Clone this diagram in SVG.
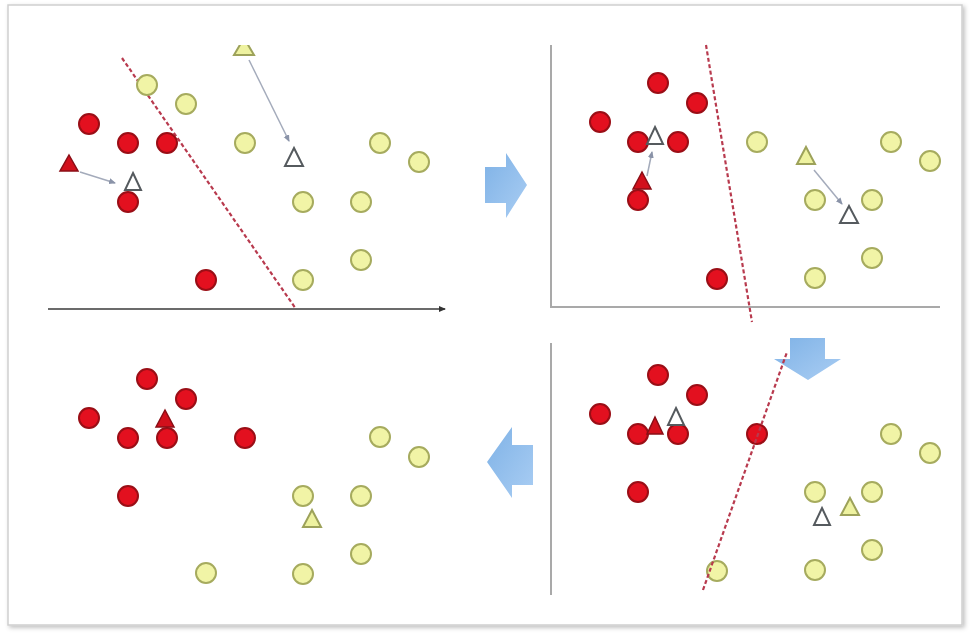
<svg xmlns="http://www.w3.org/2000/svg" width="972" height="634" viewBox="0 0 972 634">
<style>
.r{fill:#e3101f;stroke:#9a0e16;stroke-width:2}
.y{fill:#f1f4a6;stroke:#a6ab5e;stroke-width:2}
.rt{fill:#d2101c;stroke:#8a0e16;stroke-width:1.5}
.yt{fill:#eef2a0;stroke:#9da25a;stroke-width:2}
.wt{fill:#ffffff;stroke:#555a5e;stroke-width:2}
.sep{fill:none;stroke:#b83a4e;stroke-width:2.2;stroke-dasharray:4 2.5}
.ax{fill:none;stroke:#a9a9a9;stroke-width:2}
.mv{fill:none;stroke:#a4abbb;stroke-width:1.5;marker-end:url(#mv)}
.big{fill:url(#bl)}
</style>
<defs>
<marker id="mv" markerWidth="8" markerHeight="8" refX="6" refY="3" orient="auto" markerUnits="userSpaceOnUse"><path d="M0,0 L7,3 L0,6 z" fill="#8a93a8"/></marker>
<marker id="ah" markerWidth="8" markerHeight="8" refX="6" refY="3" orient="auto" markerUnits="userSpaceOnUse"><path d="M0,0 L7,3 L0,6 z" fill="#333"/></marker>
<linearGradient id="bl" x1="0" y1="0" x2="1" y2="1"><stop offset="0" stop-color="#7fb2e6"/><stop offset="1" stop-color="#a9cdf3"/></linearGradient>
<clipPath id="top"><rect x="0" y="45" width="972" height="600"/></clipPath>
<filter id="sh" x="-2%" y="-2%" width="104%" height="104%"><feDropShadow dx="2" dy="2" stdDeviation="2" flood-color="#000" flood-opacity="0.25"/></filter>
</defs>
<rect x="0" y="0" width="972" height="634" fill="#ffffff"/>
<rect id="frame" x="8" y="5" width="954" height="620" fill="#ffffff" stroke="#cfcfcf" stroke-width="1.5" filter="url(#sh)"/>

<g id="step-arrows">
<polygon id="arrow-right" class="big" points="485,167 506,167 506,153 527,185 506,218 506,203 485,203"/>
<polygon id="arrow-down" class="big" points="790,338 825,338 825,359 841,359 808,380 774,359 790,359"/>
<polygon id="arrow-left" class="big" points="533,445 512,445 512,427 487,462 512,498 512,485 533,485"/>
</g>

<g id="panel-top-left">
<line x1="48" y1="309" x2="445" y2="309" stroke="#3a3a3a" stroke-width="1.5" marker-end="url(#ah)"/>
<line class="sep" x1="122" y1="58" x2="296" y2="309"/>
<circle class="y" cx="147" cy="85" r="10"/>
<circle class="y" cx="186" cy="104" r="10"/>
<circle class="y" cx="245" cy="143" r="10"/>
<circle class="y" cx="380" cy="143" r="10"/>
<circle class="y" cx="419" cy="162" r="10"/>
<circle class="y" cx="303" cy="202" r="10"/>
<circle class="y" cx="361" cy="202" r="10"/>
<circle class="y" cx="361" cy="260" r="10"/>
<circle class="y" cx="303" cy="280" r="10"/>
<circle class="r" cx="89" cy="124" r="10"/>
<circle class="r" cx="128" cy="143" r="10"/>
<circle class="r" cx="167" cy="143" r="10"/>
<circle class="r" cx="128" cy="202" r="10"/>
<circle class="r" cx="206" cy="280" r="10"/>
<polygon class="rt" points="69,155 78,171 60,171"/>
<line class="mv" x1="80" y1="172" x2="115" y2="183"/>
<polygon class="wt" points="133,173 141,190 125,190"/>
<polygon class="yt" clip-path="url(#top)" points="244,38 254,55 234,55"/>
<line class="mv" x1="249" y1="60" x2="289" y2="141"/>
<polygon class="wt" points="294,148 303,166 285,166"/>
</g>

<g id="panel-top-right">
<polyline class="ax" points="551,45 551,307 940,307"/>
<line class="sep" x1="706" y1="45" x2="752" y2="322"/>
<circle class="r" cx="658" cy="83" r="10"/>
<circle class="r" cx="697" cy="103" r="10"/>
<circle class="r" cx="600" cy="122" r="10"/>
<circle class="r" cx="638" cy="142" r="10"/>
<circle class="r" cx="678" cy="142" r="10"/>
<circle class="r" cx="638" cy="200" r="10"/>
<circle class="r" cx="717" cy="279" r="10"/>
<polygon class="rt" points="642,172 651,189 633,189"/>
<line class="mv" x1="647" y1="176" x2="652" y2="152"/>
<polygon class="wt" points="655,127 663,144 647,144"/>
<circle class="y" cx="757" cy="142" r="10"/>
<circle class="y" cx="891" cy="142" r="10"/>
<circle class="y" cx="930" cy="161" r="10"/>
<circle class="y" cx="815" cy="200" r="10"/>
<circle class="y" cx="872" cy="200" r="10"/>
<circle class="y" cx="872" cy="258" r="10"/>
<circle class="y" cx="815" cy="278" r="10"/>
<polygon class="yt" points="806,147 815,164 797,164"/>
<line class="mv" x1="814" y1="170" x2="842" y2="204"/>
<polygon class="wt" points="849,206 858,223 840,223"/>
</g>

<g id="panel-bottom-right">
<line class="ax" x1="551" y1="343" x2="551" y2="595"/>
<circle class="r" cx="658" cy="375" r="10"/>
<circle class="r" cx="697" cy="395" r="10"/>
<circle class="r" cx="600" cy="414" r="10"/>
<circle class="r" cx="638" cy="434" r="10"/>
<circle class="r" cx="678" cy="434" r="10"/>
<circle class="r" cx="757" cy="434" r="10"/>
<circle class="r" cx="638" cy="492" r="10"/>
<polygon class="rt" points="655,417 663,434 647,434"/>
<polygon class="wt" points="676,408 684,425 668,425"/>
<circle class="y" cx="717" cy="571" r="10"/>
<circle class="y" cx="891" cy="434" r="10"/>
<circle class="y" cx="930" cy="453" r="10"/>
<circle class="y" cx="815" cy="492" r="10"/>
<circle class="y" cx="872" cy="492" r="10"/>
<circle class="y" cx="872" cy="550" r="10"/>
<circle class="y" cx="815" cy="570" r="10"/>
<polygon class="yt" points="850,498 859,515 841,515"/>
<polygon class="wt" points="822,508 830,525 814,525"/>
<line class="sep" x1="703" y1="590" x2="787" y2="352"/>
</g>

<g id="panel-bottom-left">
<circle class="r" cx="147" cy="379" r="10"/>
<circle class="r" cx="186" cy="399" r="10"/>
<circle class="r" cx="89" cy="418" r="10"/>
<circle class="r" cx="128" cy="438" r="10"/>
<circle class="r" cx="167" cy="438" r="10"/>
<circle class="r" cx="245" cy="438" r="10"/>
<circle class="r" cx="128" cy="496" r="10"/>
<polygon class="rt" points="165,410 174,427 156,427"/>
<circle class="y" cx="380" cy="437" r="10"/>
<circle class="y" cx="419" cy="457" r="10"/>
<circle class="y" cx="303" cy="496" r="10"/>
<circle class="y" cx="361" cy="496" r="10"/>
<circle class="y" cx="361" cy="554" r="10"/>
<circle class="y" cx="303" cy="574" r="10"/>
<circle class="y" cx="206" cy="573" r="10"/>
<polygon class="yt" points="312,510 321,527 303,527"/>
</g>
</svg>
